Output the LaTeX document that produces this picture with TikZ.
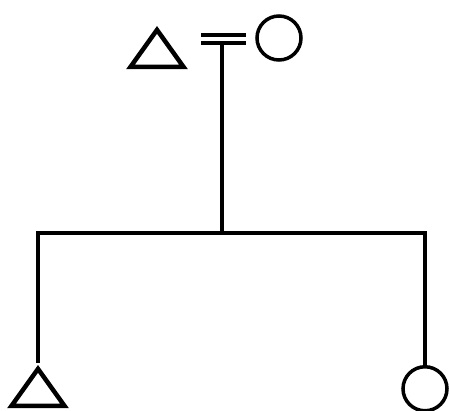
\documentclass[tikz,border=0pt]{standalone}
\usetikzlibrary{shapes.geometric}

\tikzset{
  male/.style={draw,isosceles triangle,isosceles triangle stretches,shape border rotate=90,
    minimum width=53pt,minimum height=37pt,inner sep=0pt,line width=4.5pt},
  female/.style={draw,circle,minimum size=44pt,inner sep=0pt,line width=3.5pt},
  kin/.style={line width=4.5pt}
}

\begin{document}
\begin{tikzpicture}[x=1pt,y=-1pt]
\useasboundingbox (0,0) rectangle (449,410);
% parents
\node[male,anchor=apex] (father) at(157,24){};
\node[female] (mother) at(279,38){};
\coordinate (mA) at(201,35);\coordinate (mB) at(246,35);
\coordinate (mC) at(201,43);\coordinate (mD) at(246,43);
\draw[kin] (mA)--(mB);\draw[kin] (mC)--(mD);
% descent
\coordinate (top) at(222,43);\coordinate (mid) at(222,233);
\coordinate (barL) at(38,233);\coordinate (barR) at(425,233);
\draw[kin] (top)--(mid);
\draw[kin,line cap=rect] (barL)--(barR);
% children
\node[male,anchor=apex] (son) at(38,363){};
\node[female,anchor=north] (daughter) at(425,365){};
\draw[kin] (barL)--(son.apex);
\draw[kin] (barR)--(daughter.north);
\end{tikzpicture}
\end{document}
